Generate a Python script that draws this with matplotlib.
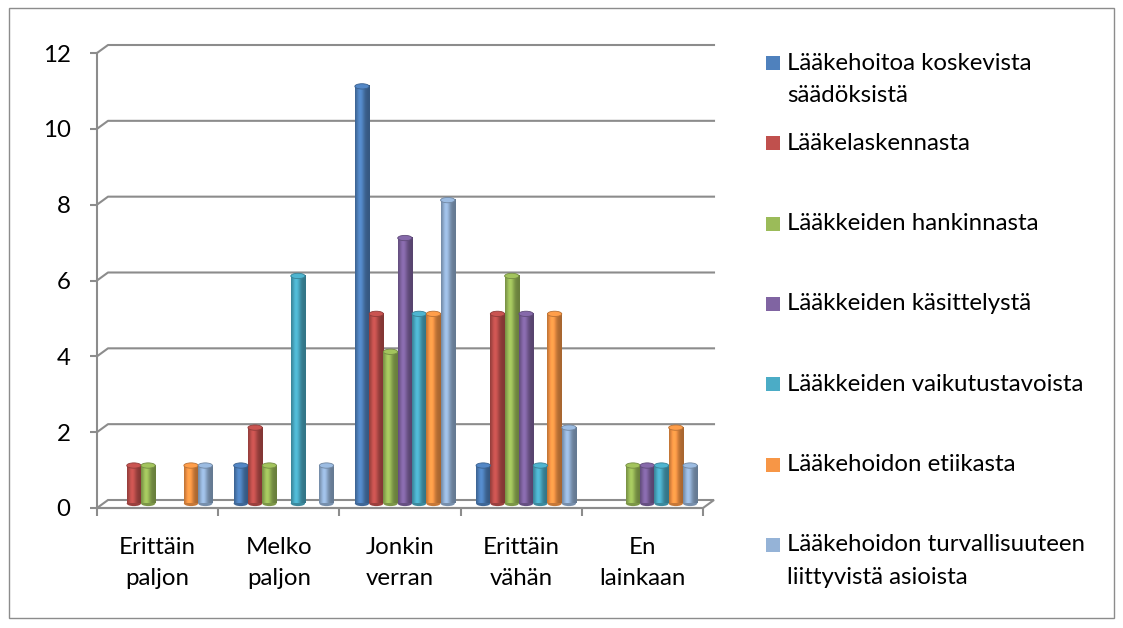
import matplotlib
matplotlib.use("Agg")
import matplotlib.pyplot as plt
import matplotlib.patches as mpatches
from matplotlib.colors import to_rgb
import numpy as np

plt.rcParams['font.family'] = ['Lato', 'DejaVu Sans']

categories = ["Erittäin\npaljon", "Melko\npaljon", "Jonkin\nverran", "Erittäin\nvähän", "En\nlainkaan"]
series_names = [
    "Lääkehoitoa koskevista\nsäädöksistä",
    "Lääkelaskennasta",
    "Lääkkeiden hankinnasta",
    "Lääkkeiden käsittelystä",
    "Lääkkeiden vaikutustavoista",
    "Lääkehoidon etiikasta",
    "Lääkehoidon turvallisuuteen\nliittyvistä asioista",
]
saadokset = [0, 1, 11, 1, 0]
laskenta = [1, 2, 5, 5, 0]
hankinta = [1, 1, 4, 6, 1]
kasittely = [0, 0, 7, 5, 1]
vaikutus = [0, 6, 5, 1, 1]
etiikka = [1, 0, 5, 5, 2]
turvallisuus = [1, 1, 8, 2, 1]
values = [saadokset, laskenta, hankinta, kasittely, vaikutus, etiikka, turvallisuus]
colors = ["#4F81BD", "#C0504D", "#9BBB59", "#8064A2", "#4BACC6", "#F79646", "#95B3D7"]
yticks = [0, 2, 4, 6, 8, 10, 12]

FS = 17.3
W, H = 1123, 628
fig = plt.figure(figsize=(W / 100, H / 100), dpi=100)
fig.patches.append(mpatches.Rectangle((9 / W, 10 / H), 1105 / W, 610 / H, transform=fig.transFigure,
                                      fill=False, edgecolor="#8c8c8c", lw=1))

ax = fig.add_axes([97 / W, 1 - 508 / H, 606 / W, 455 / H])
ax.set_xlim(0, 5)
ax.set_ylim(0, 12)
grid_c = "#8c8c8c"

# depth offsets of back wall (in data units)
dx = 11 / (606 / 5)
dy = 8 / (455 / 12)

for y in yticks:
    if y == 0:
        continue
    ax.plot([0, dx, 5 + dx], [y, y + dy, y + dy], color=grid_c, lw=1.5, clip_on=False, zorder=1)

# floor
floor = mpatches.Polygon([(0, 0), (5, 0), (5 + dx, dy), (dx, dy)], closed=True,
                         facecolor="white", edgecolor=grid_c, lw=1.5, clip_on=False, zorder=1)
ax.add_patch(floor)

# cylinders
n = len(values)
group_w = 0.825
bw = group_w / n
shift_x = 0.04
base = 0.12
t = np.linspace(0, 1, 60)
shade = 0.68 + 0.42 * np.exp(-((t - 0.35) / 0.28) ** 2)
for i, (vals, col) in enumerate(zip(values, colors)):
    rgb = np.array(to_rgb(col))
    grad = np.clip(rgb[None, :] * shade[:, None], 0, 1)[None, :, :]
    for c, v in enumerate(vals):
        if v == 0:
            continue
        x0 = c + 0.5 - group_w / 2 + i * bw + shift_x
        x1 = x0 + bw
        ax.imshow(grad, extent=(x0, x1, base, v + base), aspect='auto',
                  interpolation='bilinear', zorder=3, clip_on=False)
        ax.add_patch(mpatches.Ellipse(((x0 + x1) / 2, base), bw, 0.14,
                                      facecolor=np.clip(rgb * 0.8, 0, 1), edgecolor='none', zorder=2.9, clip_on=False))
        ax.add_patch(mpatches.Ellipse(((x0 + x1) / 2, v + base), bw, 0.14,
                                      facecolor=np.clip(rgb * 1.05, 0, 1), edgecolor=np.clip(rgb * 0.75, 0, 1),
                                      lw=0.6, zorder=4, clip_on=False))

ax.set_xlim(0, 5)
ax.set_ylim(0, 12)

for s in ["top", "right"]:
    ax.spines[s].set_visible(False)
ax.spines["left"].set_color(grid_c)
ax.spines["left"].set_linewidth(1.5)
ax.spines["bottom"].set_color(grid_c)
ax.spines["bottom"].set_linewidth(1.5)
ax.spines["bottom"].set_zorder(5)

ax.set_yticks(yticks)
ax.set_yticklabels([str(v) for v in yticks])
ax.tick_params(axis='y', direction='out', length=5, width=1.5, color=grid_c, pad=14, labelsize=FS)

ax.set_xticks(np.arange(5) + 0.5)
ax.set_xticklabels(categories, linespacing=1.6)
ax.set_xticks(np.arange(6), minor=True)
ax.tick_params(axis='x', which='major', length=0, pad=21, labelsize=FS)
ax.tick_params(axis='x', which='minor', direction='out', length=6, width=1.5, color=grid_c)
ax.set_facecolor('none')

# legend
leg_x = 766
y_first = 63
step = 80.3
for i, (name, col) in enumerate(zip(series_names, colors)):
    yc = y_first + i * step
    fig.patches.append(mpatches.Rectangle((leg_x / W, 1 - (yc + 7) / H), 14 / W, 14 / H,
                                          transform=fig.transFigure, facecolor=col, edgecolor='none'))
    for k, line in enumerate(name.split("\n")):
        fig.text(787 / W, 1 - (yc + k * 33) / H, line, fontsize=FS, va='center', ha='left')

fig.savefig("out.png", dpi=100)
